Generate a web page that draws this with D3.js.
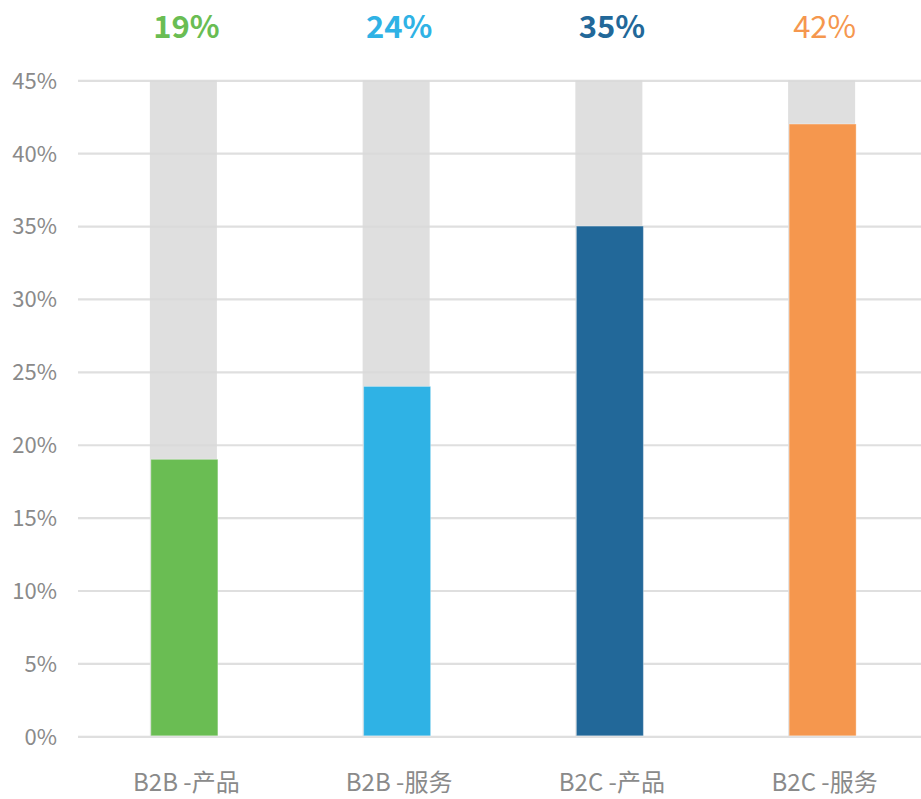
<!DOCTYPE html>
<html>
<head>
<meta charset="utf-8">
<script src="https://cdn.jsdelivr.net/npm/d3@7"></script>
<style>
  html, body { margin: 0; padding: 0; background: #ffffff; }
  svg { display: block; }
  text { font-family: "Noto Sans CJK SC", "Noto Sans", sans-serif; }
</style>
</head>
<body>
<svg id="chart" width="921" height="799"></svg>
<script>
// Share of each business type
const categories = ["B2B -产品", "B2B -服务", "B2C -产品", "B2C -服务"];
const values = [19, 24, 35, 42];
const barColors = ["#6abd53", "#2fb2e5", "#226899", "#f5974e"];
const labelWeights = [700, 700, 700, 400];
const yTicks = [0, 5, 10, 15, 20, 25, 30, 35, 40, 45];
const yMax = 45;

const svg = d3.select("#chart");

const x = d3.scaleBand()
  .domain(categories)
  .range([78, 929])
  .paddingInner(0.685)
  .paddingOuter(0.3425);

const y = d3.scaleLinear()
  .domain([0, yMax])
  .range([736.3, 80.3]);

// grey track behind each bar, full height of the axis
svg.append("g")
  .selectAll("rect")
  .data(categories)
  .join("rect")
  .attr("x", d => x(d) - 1)
  .attr("width", x.bandwidth())
  .attr("y", y(yMax))
  .attr("height", y(0) - y(yMax))
  .attr("fill", "#dfdfdf");

// horizontal gridlines
const yAxis = d3.axisLeft(y)
  .tickValues(yTicks)
  .tickSize(-(921 - 78))
  .tickPadding(21)
  .tickFormat(d => d + "%");

const gAxis = svg.append("g")
  .attr("transform", "translate(78,0)")
  .call(yAxis);
gAxis.select(".domain").remove();
gAxis.selectAll(".tick line")
  .attr("stroke", "#d9d9d9")
  .attr("stroke-width", 2.2)
  .attr("stroke-opacity", 0.85);
gAxis.selectAll(".tick text")
  .attr("fill", "#8a8a8a")
  .attr("font-size", 22)
  .attr("dy", "0.36em");

// value bars
svg.append("g")
  .selectAll("rect")
  .data(values)
  .join("rect")
  .attr("x", (d, i) => x(categories[i]))
  .attr("width", x.bandwidth())
  .attr("y", d => y(d))
  .attr("height", d => y(0) - y(d) - 0.5)
  .attr("fill", (d, i) => barColors[i])
  .attr("stroke", "#ffffff")
  .attr("stroke-opacity", 0.35)
  .attr("stroke-width", 1);

// value labels above the chart
svg.append("g")
  .selectAll("text")
  .data(values)
  .join("text")
  .attr("x", (d, i) => x(categories[i]) + x.bandwidth() / 2 + 2)
  .attr("y", 38)
  .attr("text-anchor", "middle")
  .attr("font-size", 31)
  .attr("font-weight", (d, i) => labelWeights[i])
  .attr("fill", (d, i) => barColors[i])
  .text(d => d + "%");

// category labels
svg.append("g")
  .selectAll("text")
  .data(categories)
  .join("text")
  .attr("x", d => x(d) + x.bandwidth() / 2 + 2)
  .attr("y", 791)
  .attr("text-anchor", "middle")
  .attr("font-size", 24)
  .attr("fill", "#8a8a8a")
  .text(d => d);
</script>
</body>
</html>
